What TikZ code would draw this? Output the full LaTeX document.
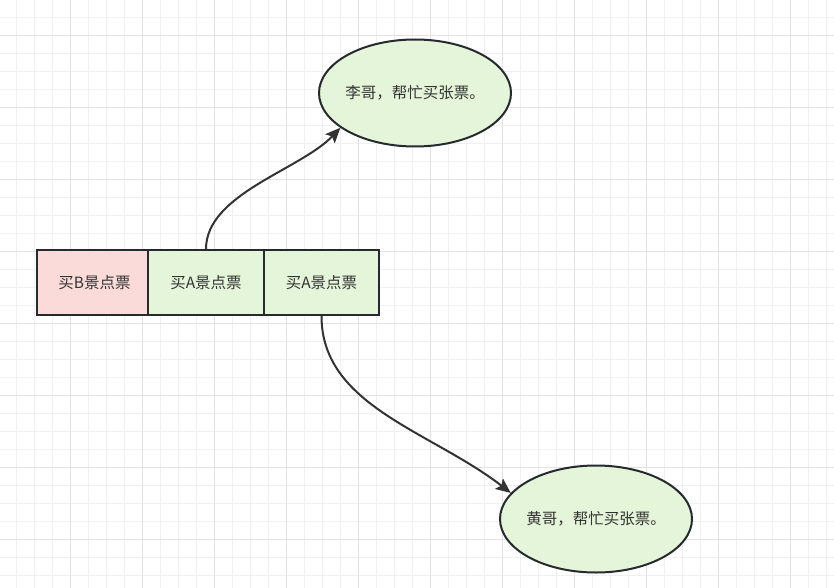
\documentclass[tikz,border=0pt]{standalone}
\usepackage{fontspec}
\setmainfont{Noto Sans CJK SC}
\usetikzlibrary{shapes.geometric,arrows.meta}
\definecolor{gridminor}{HTML}{F0F0F0}
\definecolor{gridmajor}{HTML}{E2E2E2}
\definecolor{pinkfill}{HTML}{FADBD9}
\definecolor{greenfill}{HTML}{E4F5D9}
\definecolor{edgecol}{HTML}{262A2E}
\definecolor{arrowcol}{HTML}{333333}
\definecolor{textcol}{HTML}{333333}
\tikzset{
  cell/.style={draw=edgecol, line width=2pt, rectangle, inner sep=0pt, minimum height=65pt, text=textcol, font=\fontsize{15.5}{18}\selectfont},
  bubble/.style={draw=edgecol, line width=2pt, ellipse, fill=greenfill, inner sep=0pt, minimum width=192pt, minimum height=107pt, text=textcol, font=\fontsize{15.5}{18}\selectfont},
  conn/.style={draw=arrowcol, line width=2pt, -{Stealth[length=15pt,width=13pt,inset=3pt]}}
}
\begin{document}
\begin{tikzpicture}[x=1pt,y=-1pt]
\useasboundingbox (0,0) rectangle (834,588);
\fill[white] (0,0) rectangle (834,588);
% grid
\foreach \k in {0,...,45} {
  \draw[gridminor, line width=1pt] ({16.7+18*\k},0) -- ({16.7+18*\k},588);
}
\foreach \k in {0,...,32} {
  \draw[gridminor, line width=1pt] (0,{17.3+18*\k}) -- (834,{17.3+18*\k});
}
\foreach \m in {0,...,10} {
  \draw[gridmajor, line width=1pt] ({70.7+72*\m},0) -- ({70.7+72*\m},588);
}
\foreach \m in {0,...,7} {
  \draw[gridmajor, line width=1pt] (0,{35.3+72*\m}) -- (834,{35.3+72*\m});
}
% cells
\node[cell, fill=pinkfill, minimum width=111pt] (b1) at (92.5,282.5) {\hspace{4pt}买B景点票};
\node[cell, fill=greenfill, minimum width=116pt] (b2) at (206,282.5) {买A景点票};
\node[cell, fill=greenfill, minimum width=115pt] (b3) at (321.5,282.5) {买A景点票};
% ellipses
\node[bubble] (e1) at (415,93) {\makebox[0pt]{李哥，帮忙买张票。}};
\node[bubble] (e2) at (596,519) {\makebox[0pt]{黄哥，帮忙买张票。}};
% connectors
\draw[conn] (b2.north) .. controls +(0,-55) and +(-40,42) .. (e1.205);
\draw[conn] (b3.south) .. controls +(0,90) and +(-80,-62) .. (e2.163);
\end{tikzpicture}
\end{document}
